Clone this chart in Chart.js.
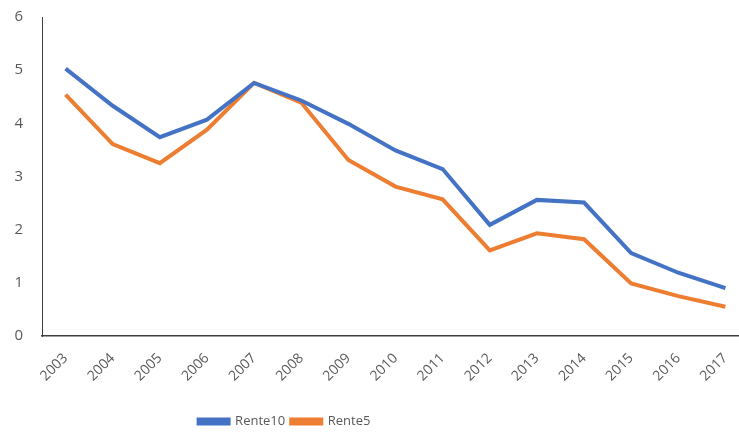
<!DOCTYPE html>
<html>
<head>
<meta charset="utf-8">
<script src="https://cdn.jsdelivr.net/npm/chart.js@4"></script>
<style>
  html,body{margin:0;padding:0;background:#fff;overflow:hidden;}
  #wrap{width:749px;height:435px;}
</style>
</head>
<body>
<div id="wrap"><canvas id="chart"></canvas></div>
<script>
const years = ['2003','2004','2005','2006','2007','2008','2009','2010','2011','2012','2013','2014','2015','2016','2017'];
const rente10 = [5.03, 4.33, 3.74, 4.07, 4.76, 4.43, 3.99, 3.49, 3.14, 2.09, 2.56, 2.51, 1.56, 1.19, 0.90];
const rente5  = [4.54, 3.61, 3.25, 3.88, 4.76, 4.39, 3.31, 2.81, 2.57, 1.61, 1.93, 1.82, 0.99, 0.75, 0.55];

const font = {family:'"Open Sans", "Noto Sans", sans-serif', size:14};
const grey = '#595959';

// legend sits left of centre, under the visible part of the plot
const legendShift = {
  id:'legendShift',
  afterLayout(chart){
    const lg = chart.legend;
    lg.right = lg.left + 549;
  }
};

new Chart(document.getElementById('chart'), {
  type:'line',
  data:{
    labels: years,
    datasets:[
      {label:'Rente10', data: rente10, borderColor:'#4472C4', backgroundColor:'#4472C4', borderWidth:4, pointRadius:0, tension:0},
      {label:'Rente5', data: rente5, borderColor:'#ED7D31', backgroundColor:'#ED7D31', borderWidth:4, pointRadius:0, tension:0}
    ]
  },
  options:{
    responsive:true,
    maintainAspectRatio:false,
    animation:false,
    layout:{padding:{left:10, top:17, right:0, bottom:-3}},
    scales:{
      x:{
        offset:true,
        grid:{display:false, drawTicks:false},
        border:{display:true, color:'#404040', width:1.5},
        ticks:{color:grey, font, maxRotation:45, minRotation:45, padding:14, autoSkip:false},
        afterFit(s){ s.paddingLeft = 0; s.paddingRight = 0; s.height = 73; }
      },
      y:{
        min:0, max:6,
        grid:{display:false, drawTicks:false},
        border:{display:true, color:'#404040', width:1},
        ticks:{color:grey, font:{...font, size:15}, stepSize:1, padding:19},
        afterFit(s){ s.width = 32; s.paddingTop = 0; s.paddingBottom = 0; }
      }
    },
    plugins:{
      legend:{
        position:'bottom',
        labels:{color:grey, font:{...font, size:13}, boxWidth:30, boxHeight:4, padding:6}
      },
      tooltip:{enabled:false}
    }
  },
  plugins:[legendShift]
});
</script>
</body>
</html>
